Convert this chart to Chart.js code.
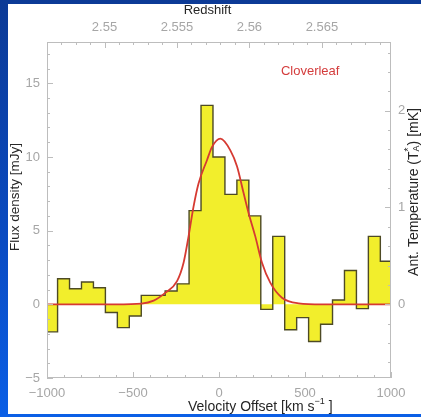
<!DOCTYPE html>
<html>
<head>
<meta charset="utf-8">
<script src="https://cdn.jsdelivr.net/npm/chart.js@4/dist/chart.umd.min.js"></script>
<style>
  html, body { margin: 0; padding: 0; }
  body {
    width: 421px; height: 417px; overflow: hidden; position: relative;
    background: linear-gradient(180deg, #0c3a96 0%, #0a4ac0 55%, #0b5fe6 100%);
  }
  #panel { position: absolute; left: 8px; top: 4px; width: 413px; height: 410px; background: #fff; }
  canvas { display: block; }
</style>
</head>
<body>
<div id="panel"><canvas id="spectrum" width="413" height="410"></canvas></div>
<script>
// channel edges (km/s) and flux per channel (mJy)
const chanEdges = [-1008, -938.5, -869, -799.5, -730, -660.5, -591, -521.5, -452, -382.5,
  -313, -243.5, -174, -104.5, -35, 34.5, 104, 173.5, 243, 312.5,
  382, 451.5, 521, 590.5, 660, 729.5, 799, 868.5, 938, 1007.5];
const chanFlux = [-1.87, 1.73, 1.06, 1.51, 1.12, -0.56, -1.58, -0.79, 0.61, 0.61,
  0.90, 1.39, 6.36, 13.5, 10.0, 7.46, 8.43, 6.0, -0.34, 4.61,
  -1.73, -0.90, -2.52, -1.35, 0.29, 2.29, -0.29, 4.61, 2.92];

// gaussian line fit, sampled
const fitVel = [-1000, -600, -450, -380, -311, -244, -206, -177, -148, -119, -70, -41, 8,
  66, 105, 143, 172, 211, 250, 298, 366, 463, 600, 1000];
const fitFlux = [0, 0, 0.05, 0.25, 0.79, 1.57, 2.82, 4.61, 6.63, 8.2, 9.78, 10.67, 11.24,
  10.45, 9.35, 7.55, 6.2, 4.61, 2.82, 1.47, 0.45, 0.07, 0, 0];

// axes
const velTicks = [-1000, -500, 0, 500, 1000];
const fluxTicks = [-5, 0, 5, 10, 15];
const zTicks = [2.55, 2.555, 2.56, 2.565];
const tempTicks = [0, 1, 2];
const velRange = [-1000, 1000];
const fluxRange = [-5, 17.8];
const zSys = 2.5579;
const cKms = 299792.458;
const mJyPerMK = 6.57;

const zRange = velRange.map(v => zSys + v * (1 + zSys) / cKms);
const tempRange = fluxRange.map(f => f / mJyPerMK);

const axisGrey = '#bdbdbd';
const labelGrey = '#a6a6a6';
const titleInk = '#262626';
const fontFamily = '"Liberation Sans", Arial, sans-serif';

Chart.defaults.font.family = fontFamily;
Chart.defaults.font.size = 13;

const minus = v => String(v).replace('-', '\u2212');

function fixedTicks(values) {
  return scale => { scale.ticks = values.map(v => ({ value: v })); };
}

function axis(position, range, ticks, padding, size) {
  const horizontal = position === 'top' || position === 'bottom';
  return {
    type: 'linear',
    position,
    min: range[0],
    max: range[1],
    afterBuildTicks: fixedTicks(ticks),
    afterFit: s => { if (horizontal) s.height = size; else s.width = size; },
    grid: { display: false, drawTicks: false },
    border: { display: false },
    ticks: {
      color: labelGrey,
      padding,
      autoSkip: false,
      maxRotation: 0,
      font: { size: 13 },
      callback: v => minus(v)
    }
  };
}

// draw text runs with sub/superscripts along a baseline
function drawRuns(ctx, runs, x, y) {
  let cx = x;
  runs.forEach(r => {
    ctx.font = (r.size || 14) + 'px ' + fontFamily;
    ctx.fillText(r.t, cx, y + (r.dy || 0));
    if (!r.stack) cx += ctx.measureText(r.t).width;
  });
}
function runsWidth(ctx, runs) {
  let w = 0;
  runs.forEach(r => {
    ctx.font = (r.size || 14) + 'px ' + fontFamily;
    if (!r.stack) w += ctx.measureText(r.t).width;
  });
  return w;
}

function tickValues(range, step) {
  const out = [];
  const k0 = Math.ceil(range[0] / step - 1e-9), k1 = Math.floor(range[1] / step + 1e-9);
  for (let k = k0; k <= k1; k++) out.push(+(k * step).toFixed(6));
  return out;
}

const framePlugin = {
  id: 'framePlugin',
  afterDatasetsDraw(chart) {
    const { ctx, chartArea: a, scales } = chart;
    ctx.save();
    ctx.strokeStyle = axisGrey;
    ctx.lineWidth = 1;
    ctx.strokeRect(Math.round(a.left) + 0.5, Math.round(a.top) + 0.5,
      Math.round(a.width) - 1, Math.round(a.height) - 1);

    const marks = (scale, majors, step, side) => {
      const range = [scale.min, scale.max];
      tickValues(range, step).forEach(v => {
        const len = majors.some(m => Math.abs(m - v) < step / 10) ? 6 : 3;
        const p = Math.round(scale.getPixelForValue(v)) + 0.5;
        ctx.beginPath();
        if (side === 'bottom') { ctx.moveTo(p, a.bottom); ctx.lineTo(p, a.bottom - len); }
        if (side === 'top') { ctx.moveTo(p, a.top); ctx.lineTo(p, a.top + len); }
        if (side === 'left') { ctx.moveTo(a.left, p); ctx.lineTo(a.left + len, p); }
        if (side === 'right') { ctx.moveTo(a.right, p); ctx.lineTo(a.right - len, p); }
        ctx.stroke();
      });
    };
    marks(scales.x, velTicks, 100, 'bottom');
    marks(scales.xz, zTicks, 0.001, 'top');
    marks(scales.y, fluxTicks, 1, 'left');
    marks(scales.yt, tempTicks, 0.2, 'right');

    // source name
    ctx.fillStyle = '#d43c3c';
    ctx.font = '13px ' + fontFamily;
    ctx.textBaseline = 'middle';
    ctx.textAlign = 'left';
    ctx.fillText('Cloverleaf', scales.x.getPixelForValue(360), scales.y.getPixelForValue(15.8));

    // axis titles
    ctx.fillStyle = titleInk;
    ctx.textBaseline = 'middle';
    ctx.font = '13px ' + fontFamily;
    ctx.textAlign = 'center';
    ctx.fillText('Redshift', a.left + 160.5, a.top - 32);

    ctx.textAlign = 'left';
    const velTitle = [{ t: 'Velocity Offset [km s' }, { t: '\u22121', size: 9, dy: -5 }, { t: ' ]' }];
    drawRuns(ctx, velTitle, a.left + 141, a.bottom + 29);

    ctx.save();
    ctx.translate(a.left - 32, a.top + 155);
    ctx.rotate(-Math.PI / 2);
    ctx.textAlign = 'center';
    ctx.font = '13.5px ' + fontFamily;
    ctx.fillText('Flux density [mJy]', 0, 0);
    ctx.restore();

    ctx.save();
    ctx.translate(a.right + 23, a.top + 150);
    ctx.rotate(-Math.PI / 2);
    ctx.textAlign = 'left';
    const tempTitle = [{ t: 'Ant. Temperature (T' }, { t: '*', size: 10, dy: -5, stack: true },
      { t: 'A', size: 9, dy: 3 }, { t: ') [mK]' }];
    drawRuns(ctx, tempTitle, -runsWidth(ctx, tempTitle) / 2, 0);
    ctx.restore();

    ctx.restore();
  }
};

const histData = chanEdges.map((v, i) => ({ x: v, y: chanFlux[Math.min(i, chanFlux.length - 1)] }));
const fitData = fitVel.map((v, i) => ({ x: v, y: fitFlux[i] }));

new Chart(document.getElementById('spectrum'), {
  type: 'line',
  data: {
    datasets: [
      {
        label: 'Gaussian fit',
        data: fitData,
        borderColor: '#d63a32',
        borderWidth: 1.8,
        pointRadius: 0,
        cubicInterpolationMode: 'monotone',
        fill: false,
        order: 1
      },
      {
        label: 'CO spectrum',
        data: histData,
        stepped: true,
        borderColor: '#4d4a25',
        borderWidth: 1.4,
        backgroundColor: '#f2ee2c',
        pointRadius: 0,
        fill: 'origin',
        order: 2
      }
    ]
  },
  options: {
    responsive: false,
    animation: false,
    devicePixelRatio: 1,
    layout: { padding: 0 },
    plugins: { legend: { display: false }, tooltip: { enabled: false } },
    scales: {
      x: axis('bottom', velRange, velTicks, 8, 36),
      xz: axis('top', zRange, zTicks, 7, 38),
      y: axis('left', fluxRange, fluxTicks, 7, 39),
      yt: axis('right', tempRange, tempTicks, 7, 30)
    }
  },
  plugins: [framePlugin]
});
</script>
</body>
</html>
